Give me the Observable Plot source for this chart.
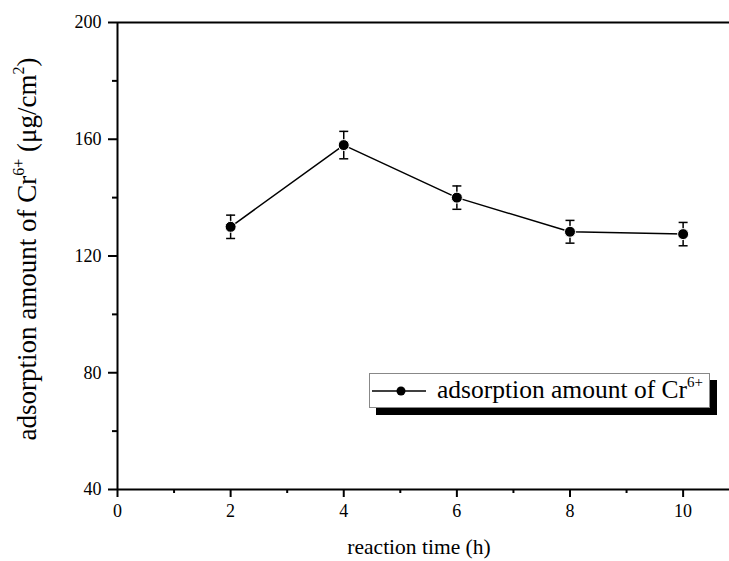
<!DOCTYPE html>
<html>
<head>
<meta charset="utf-8">
<script src="https://cdn.jsdelivr.net/npm/d3@7"></script>
<script src="https://cdn.jsdelivr.net/npm/@observablehq/plot@0.6"></script>
<style>
  html, body { margin: 0; padding: 0; background: #fff; }
  #wrap { position: relative; width: 729px; height: 561px; font-family: "Liberation Serif", "Times New Roman", serif; }
  #legend { position: absolute; left: 369px; top: 373px; width: 341px; height: 35px;
            border: 1px solid #888; background: #fff; box-shadow: 7px 7px 0 #000; box-sizing: border-box; }
  #legend svg { position: absolute; left: 0; top: 0; }
  #legend .lt { position: absolute; left: 67px; top: 1px; font-size: 25.5px; line-height: 30px; white-space: nowrap; color: #000; }
  #legend sup { font-size: 15px; vertical-align: 11px; line-height: 0; }
</style>
</head>
<body>
<div id="wrap"></div>
<script>
// ---- data ----
const times = [2, 4, 6, 8, 10];
const values = [130, 158, 140, 128.3, 127.5];
const errors = [4, 4.7, 4, 3.9, 4];
const xMajorTicks = [0, 2, 4, 6, 8, 10];
const xMinorTicks = [1, 3, 5, 7, 9];
const yMajorTicks = [40, 80, 120, 160, 200];
const yMinorTicks = [60, 100, 140, 180];

const data = times.map((t, i) => ({t, v: values[i], e: errors[i]}));

const capSymbol = {
  draw(ctx, size) {
    const w = Math.sqrt(size / Math.PI);
    ctx.moveTo(-w, 0);
    ctx.lineTo(w, 0);
  }
};

const serif = "'Liberation Serif', 'Times New Roman', serif";

const chart = Plot.plot({
  width: 729,
  height: 561,
  marginLeft: 117,
  marginRight: 0,
  marginTop: 22,
  marginBottom: 72,
  style: {fontFamily: serif, fontSize: "18px", color: "#000", background: "#fff"},
  x: {domain: [0, 10.82]},
  y: {domain: [40, 200]},
  marks: [
    Plot.axisX({ticks: xMajorTicks, tickSize: 8, tickPadding: 7, strokeWidth: 2, fontSize: 18, fontFamily: serif, label: null}),
    Plot.axisX({ticks: xMinorTicks, tickSize: 4, strokeWidth: 2, text: null, label: null}),
    Plot.axisY({ticks: yMajorTicks, tickSize: 9, tickPadding: 7, strokeWidth: 2, fontSize: 18, fontFamily: serif, label: null}),
    Plot.axisY({ticks: yMinorTicks, tickSize: 5, strokeWidth: 2, text: null, label: null}),
    Plot.ruleX([0], {stroke: "#000", strokeWidth: 2}),
    Plot.ruleY([40], {stroke: "#000", strokeWidth: 2}),
    Plot.ruleY([200], {stroke: "#000", strokeWidth: 2}),
    Plot.line(data, {x: "t", y: "v", stroke: "#000", strokeWidth: 1.5}),
    Plot.ruleX(data, {x: "t", y1: d => d.v - d.e, y2: d => d.v + d.e, stroke: "#000", strokeWidth: 1.5}),
    Plot.dot(data, {x: "t", y: d => d.v + d.e, symbol: capSymbol, r: 4.5, stroke: "#000", strokeWidth: 1.5}),
    Plot.dot(data, {x: "t", y: d => d.v - d.e, symbol: capSymbol, r: 4.5, stroke: "#000", strokeWidth: 1.5}),
    Plot.dot(data, {x: "t", y: "v", r: 5.5, fill: "#000", stroke: "#fff", strokeWidth: 1})
  ]
});

const svg = d3.select(chart);
// force serif tick labels
svg.selectAll("text")
  .style("font-family", serif)
  .style("font-size", "18px");

// axis titles with superscripts
svg.append("text")
  .attr("x", 419).attr("y", 554)
  .attr("text-anchor", "middle")
  .style("font-family", serif).style("font-size", "21.5px").attr("fill", "#000")
  .text("reaction time (h)");

const yt = svg.append("text")
  .attr("transform", "translate(36,249) rotate(-90)")
  .attr("text-anchor", "middle")
  .style("font-family", serif).style("font-size", "27px").attr("fill", "#000");
yt.append("tspan").text("adsorption amount of Cr");
yt.append("tspan").attr("dy", -12).style("font-size", "16px").text("6+");
yt.append("tspan").attr("dy", 12).text(" (\u03bcg/cm");
yt.append("tspan").attr("dy", -12).style("font-size", "16px").text("2");
yt.append("tspan").attr("dy", 12).text(")");

const wrap = document.getElementById("wrap");
wrap.appendChild(chart);

// legend
const leg = document.createElement("div");
leg.id = "legend";
leg.innerHTML = `<svg width="60" height="34"><line x1="2" x2="56" y1="17" y2="17" stroke="#000" stroke-width="1.5"/><circle cx="31" cy="17" r="4.5" fill="#000"/></svg><div class="lt">adsorption amount of Cr<sup>6+</sup></div>`;
wrap.appendChild(leg);
</script>
</body>
</html>
